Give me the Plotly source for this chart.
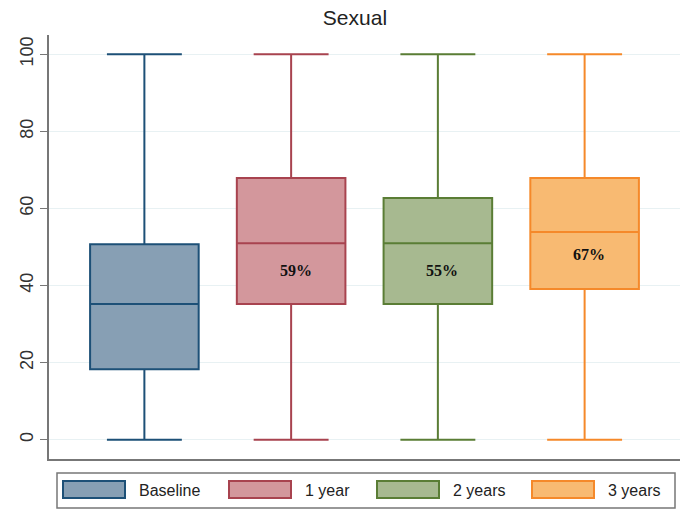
import plotly.graph_objects as go

# Box summaries per follow-up wave (sexual functioning score, 0-100)
groups = ["Baseline", "1 year", "2 years", "3 years"]
mins = [0, 0, 0, 0]
q1s = [18.3, 35.2, 35.2, 39.1]
medians = [35.2, 51.0, 51.0, 53.9]
q3s = [50.7, 67.9, 62.7, 67.9]
maxs = [100, 100, 100, 100]
pct_labels = ["", "59%", "55%", "67%"]
pct_y = [None, 44, 44, 48]

line_colors = ["#1d5077", "#a8434f", "#5a7d35", "#f5892a"]
fill_colors = ["#879fb4", "#d3979c", "#a7b990", "#f8ba72"]

y_ticks = [0, 20, 40, 60, 80, 100]

W, H = 680, 510
ML, MR, MT, MB = 49, 0, 35, 51
PW, PH = W - ML - MR, H - MT - MB


def px(x):
    """Figure pixel column -> paper x."""
    return (x - ML) / PW


def py(y):
    """Figure pixel row -> paper y."""
    return (H - MB - y) / PH


fig = go.Figure()
for i, g in enumerate(groups):
    fig.add_trace(go.Box(
        x=[i], name=g,
        q1=[q1s[i]], median=[medians[i]], q3=[q3s[i]],
        lowerfence=[mins[i]], upperfence=[maxs[i]],
        width=0.74, whiskerwidth=0.69,
        line=dict(color=line_colors[i], width=2),
        fillcolor=fill_colors[i],
        boxpoints=False, hoverinfo="skip",
        showlegend=False,
    ))
    if pct_labels[i]:
        fig.add_annotation(
            x=i + 0.03, y=pct_y[i], text=f"<b>{pct_labels[i]}</b>",
            showarrow=False,
            font=dict(family="Liberation Serif", size=16, color="#111111"),
        )

# Legend panel drawn below the plot
fig.add_shape(type="rect", xref="paper", yref="paper",
              x0=px(57), x1=px(675), y0=py(508), y1=py(473),
              line=dict(color="#777777", width=1.5), fillcolor="white")
swatch_x = [63, 229, 377, 532]
label_x = [137, 303, 451, 606]
for i, g in enumerate(groups):
    fig.add_shape(type="rect", xref="paper", yref="paper",
                  x0=px(swatch_x[i]), x1=px(swatch_x[i] + 62),
                  y0=py(498), y1=py(481),
                  line=dict(color=line_colors[i], width=2),
                  fillcolor=fill_colors[i])
    fig.add_annotation(xref="paper", yref="paper",
                       x=px(label_x[i]), y=py(490), text=g,
                       xanchor="left", yanchor="middle", showarrow=False,
                       font=dict(family="Liberation Sans", size=16, color="#222222"))

fig.update_layout(
    width=W, height=H,
    margin=dict(l=ML, r=MR, t=MT, b=MB),
    paper_bgcolor="white", plot_bgcolor="white",
    title=dict(text="Sexual", x=0.522, xanchor="center", y=0.965, yanchor="middle",
               font=dict(family="Liberation Sans", size=21, color="#222222")),
    xaxis=dict(range=[-0.65, 3.65], showticklabels=False, ticks="",
               showgrid=False, zeroline=False,
               showline=True, linecolor="#777777", linewidth=1.5),
    yaxis=dict(range=[-5, 105], tickvals=y_ticks,
               ticks="outside", ticklen=7, tickcolor="#777777",
               tickangle=-90,
               tickfont=dict(family="Liberation Sans", size=18, color="#333333"),
               showgrid=True, gridcolor="#e8f1f3", gridwidth=1,
               zeroline=False,
               showline=True, linecolor="#777777", linewidth=1.5),
    showlegend=False,
)

fig.write_html("out.html")
